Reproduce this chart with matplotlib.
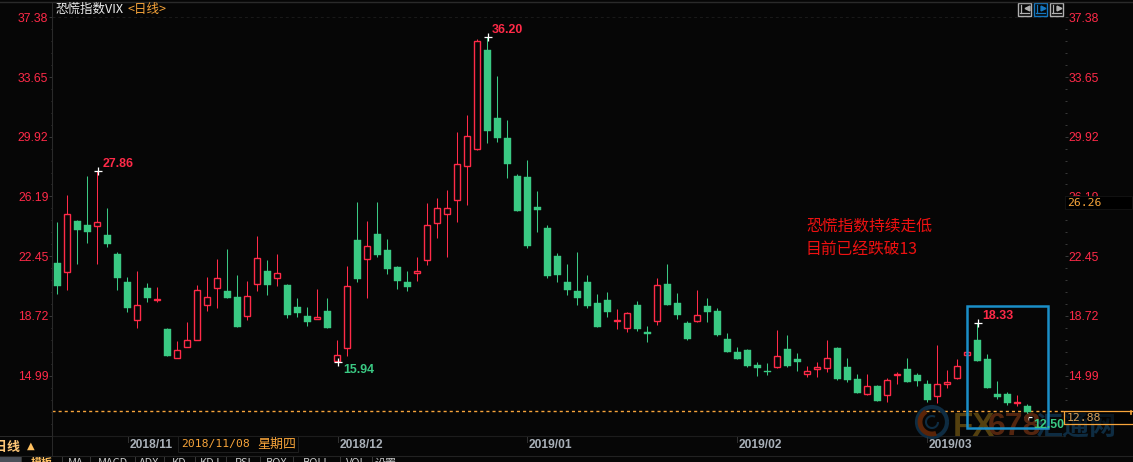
import matplotlib
matplotlib.use("Agg")
import numpy as np
from matplotlib import pyplot as plt
from matplotlib.patches import Rectangle, Arc

plt.rcParams['font.family'] = ['Noto Sans CJK SC', 'DejaVu Sans']

W, H = 1133, 462

# 日K数据, 从图上读出来的
opens = [22.03, 21.49, 24.66, 24.41, 24.36, 23.78, 22.60, 20.85, 18.45, 20.47,
         19.73, 17.91, 16.08, 16.76, 17.20, 19.39, 20.45, 20.28, 19.91, 18.70,
         20.70, 21.53, 21.11, 20.66, 19.28, 18.72, 18.55, 19.03, 15.93, 16.74,
         23.47, 22.30, 23.85, 22.84, 21.78, 20.85, 21.43, 22.24, 24.55, 25.08,
         25.99, 28.11, 29.18, 35.35, 31.09, 29.84, 27.47, 27.41, 25.53, 24.22,
         22.47, 20.85, 20.28, 20.85, 19.53, 19.72, 18.43, 17.99, 19.41, 17.72,
         18.43, 20.72, 19.53, 18.28, 18.43, 19.35, 19.03, 17.28, 16.47, 16.60,
         15.66, 15.28, 15.53, 16.66, 16.03, 15.11, 15.39, 15.49, 16.72, 15.53,
         14.78, 13.86, 14.35, 13.80, 15.01, 15.41, 15.03, 14.47, 13.70, 14.45,
         14.83, 16.26, 17.22, 16.03, 13.85, 13.85, 13.26, 13.10]
closes = [20.59, 25.08, 24.09, 23.97, 24.58, 23.24, 21.11, 19.24, 19.39, 19.85,
          19.76, 16.24, 16.58, 17.20, 20.33, 19.89, 21.08, 19.85, 18.03, 19.95,
          22.33, 20.66, 21.39, 18.78, 18.91, 18.35, 18.64, 17.97, 16.26, 20.58,
          21.03, 23.08, 22.53, 21.66, 20.91, 20.53, 21.51, 24.39, 25.45, 25.45,
          28.20, 29.95, 35.89, 30.28, 29.84, 28.22, 25.28, 23.09, 25.34, 21.22,
          21.28, 20.35, 19.85, 19.35, 18.03, 18.97, 18.45, 18.89, 17.91, 17.60,
          20.64, 19.41, 18.78, 17.28, 18.76, 18.97, 17.53, 16.47, 16.03, 15.60,
          15.47, 15.20, 16.20, 15.60, 15.85, 15.26, 15.51, 16.08, 14.78, 14.72,
          13.91, 14.33, 13.41, 14.70, 15.10, 14.60, 14.66, 13.47, 14.45, 14.58,
          15.58, 16.45, 15.91, 14.22, 13.66, 13.28, 13.35, 12.72]
highs = [24.61, 26.28, 24.72, 27.47, 27.78, 25.47, 22.72, 21.16, 21.53, 20.78,
         20.53, 17.97, 17.16, 18.35, 20.66, 21.16, 22.28, 22.91, 21.28, 20.91,
         23.72, 22.22, 22.60, 20.70, 19.85, 19.28, 20.41, 19.85, 17.22, 21.84,
         25.84, 24.66, 25.84, 23.53, 21.84, 21.53, 22.41, 25.78, 26.10, 26.60,
         30.22, 31.28, 36.03, 36.16, 33.72, 30.97, 27.60, 28.47, 26.53, 24.41,
         22.66, 21.97, 22.72, 21.28, 20.10, 20.22, 19.16, 18.97, 19.66, 18.10,
         21.10, 21.97, 20.16, 18.41, 20.35, 19.85, 19.22, 17.66, 16.78, 16.66,
         15.85, 15.78, 17.85, 17.53, 16.41, 15.60, 15.85, 17.22, 16.78, 16.10,
         15.10, 15.10, 14.41, 14.85, 15.22, 16.10, 15.16, 14.72, 16.91, 15.35,
         16.03, 17.78, 18.28, 16.35, 14.66, 13.97, 13.78, 13.22]
lows = [20.11, 20.34, 21.99, 23.30, 21.99, 23.05, 20.34, 18.99, 17.99, 19.61,
        19.61, 16.24, 16.08, 16.76, 17.20, 19.03, 19.24, 19.85, 18.03, 18.49,
        20.28, 20.03, 20.59, 18.59, 18.66, 18.10, 18.55, 17.97, 15.85, 16.22,
        20.85, 19.85, 22.41, 21.35, 20.41, 20.28, 20.91, 21.91, 23.59, 22.41,
        24.60, 25.66, 29.10, 29.53, 29.59, 27.35, 25.28, 22.99, 23.97, 21.10,
        20.85, 20.03, 19.41, 19.22, 18.03, 18.66, 17.91, 17.72, 17.78, 17.10,
        18.16, 19.41, 18.53, 17.22, 18.35, 18.35, 17.47, 16.47, 16.03, 15.53,
        14.97, 15.03, 15.49, 15.53, 15.28, 14.91, 14.91, 15.22, 14.72, 14.60,
        13.91, 13.78, 13.41, 13.35, 14.47, 14.60, 14.35, 13.35, 13.28, 14.22,
        14.78, 15.47, 15.91, 14.22, 13.53, 13.16, 13.10, 12.41]

y_ticks = [37.38, 33.65, 29.92, 26.19, 22.45, 18.72, 14.99]
y_minor = [36.63, 35.89, 35.14, 34.40, 32.90, 32.16, 31.41, 30.67,
           29.17, 28.43, 27.68, 26.94, 25.44, 24.70, 23.95, 23.20,
           21.70, 20.96, 20.21, 19.47, 17.97, 17.23, 16.48, 15.74,
           14.24, 13.50, 12.75, 12.00]
month_idx = [7.1, 28.1, 47, 68, 87]
month_labels = ['2018/11', '2018/12', '2019/01', '2019/02', '2019/03']
cur_line = 12.77

# 高低点标注
peak_idx = [4, 43, 92]
peak_txt = ['27.86', '36.20', '18.33']
trough_idx = [28, 97]
trough_txt = ['15.94', '12.50']

BG = '#060606'
RED = '#ff2a48'
GREEN = '#3ac983'
ORANGE = '#f7a43a'


def to_pt(px):
    return px * 0.72


def draw_candles(ax):
    x = np.arange(len(opens))
    o, c, h, l = map(np.array, (opens, closes, highs, lows))
    up = c >= o
    for mask, col in ((up, RED), (~up, GREEN)):
        ax.vlines(x[mask], l[mask], h[mask], color=col, lw=0.75, zorder=2)
    # 阳线空心, 阴线实心
    ax.bar(x[up], np.maximum(c[up] - o[up], 0.03), bottom=o[up], width=0.6,
           facecolor=BG, edgecolor=RED, linewidth=1.0, zorder=3)
    ax.bar(x[~up], np.maximum(o[~up] - c[~up], 0.03), bottom=c[~up], width=0.7,
           facecolor=GREEN, edgecolor=GREEN, linewidth=0.3, zorder=3)


fig = plt.figure(figsize=(W / 100, H / 100), dpi=100, facecolor=BG)
ax = fig.add_axes([52 / W, 1 - 436 / H, (1065 - 52) / W, 434 / H], facecolor=BG)
ax.set_xlim(-0.53, 100.77)
ax.set_ylim(38.47 - 436 / 16, 38.47 - 2 / 16)

draw_candles(ax)

# 坐标轴
for s in ax.spines.values():
    s.set_visible(False)
ax.spines['left'].set_visible(True)
ax.spines['left'].set_color('#2a2a2a')
ax.spines['bottom'].set_visible(True)
ax.spines['bottom'].set_color('#1c1c1c')
ax.set_xticks([])
ax.set_yticks(y_ticks)
ax.set_yticks(y_minor, minor=True)
ax.tick_params(axis='y', which='major', left=True, right=True, labelleft=True, labelright=True,
               length=to_pt(3), width=0.7, color='#3a3a3a', labelcolor=RED, pad=0.4)
ax.tick_params(axis='y', which='minor', left=True, right=True, length=to_pt(1.5), width=0.7, color='#3a3a3a')
for t in ax.get_yticklabels():
    t.set_family('Liberation Sans')
    t.set_fontsize(to_pt(12.2))
ax.axhline(y_ticks[0], color='#1a1a1a', lw=0.7, ls=(0, (3, 3)), zorder=1)
ax.plot([-0.53, 100.77], [cur_line, cur_line], color=ORANGE, lw=1.0, ls=(0, (2.2, 2.2)), zorder=1)

# 其余界面元素用像素坐标的一层来画
ui = fig.add_axes([0, 0, 1, 1], facecolor='none')
ui.set_xlim(0, W)
ui.set_ylim(H, 0)
ui.axis('off')

ui.plot([0, W], [1.5, 1.5], color='#2a2a2a', lw=1)
ui.plot([0, W], [456, 456], color='#222222', lw=0.8)

ui.text(55, 9, '恐慌指数VIX', color='#eeeeee', fontsize=to_pt(12.5), va='center')
ui.text(127, 9, '<日线>', color=ORANGE, fontsize=to_pt(12.5), va='center')

ui.text(806, 226.5, '恐慌指数持续走低', color='#ee1111', fontsize=to_pt(15.8), va='center')
ui.text(806, 249.5, '目前已经跌破13', color='#ee1111', fontsize=to_pt(15.8), va='center')

# 水印
ui.add_patch(Arc((932, 422), 30, 30, theta1=0, theta2=360, color='#0e2c42', lw=3))
ui.add_patch(Arc((932, 422), 24, 24, theta1=70, theta2=240, color='#5a2408', lw=3.5))
ui.add_patch(Arc((932, 422), 12, 12, theta1=0, theta2=300, color='#0e2c42', lw=1.5))
ui.text(953, 427, 'FX', color='#54400f', fontsize=to_pt(33), family='Liberation Sans', weight='bold', va='center')
ui.text(988, 427, '678', color='#54250f', fontsize=to_pt(32), family='Liberation Sans', weight='bold', va='center')
ui.text(1035, 427, '汇通网', color='#0e2c42', fontsize=to_pt(27), weight='bold', va='center')

# 蓝框
ui.add_patch(Rectangle((966.5, 306), 81.5, 122, fill=False, edgecolor='#1a8ec8', lw=1.8, zorder=5))

# 高低点, 放在蓝框上面
for i, txt in zip(peak_idx, peak_txt):
    ax.plot(i + 0.1, highs[i], marker='+', color='white', ms=6, mew=0.9, zorder=5)
    ui.annotate(txt, (i, highs[i]), xycoords=ax.transData, xytext=(3.5, 0.6), textcoords='offset points',
                color=RED, family='Liberation Sans', weight='bold', fontsize=to_pt(12.4), va='bottom', zorder=8)
for i, txt in zip(trough_idx, trough_txt):
    ax.plot(i + 0.1, lows[i], marker='+', color='white', ms=6, mew=0.9, zorder=5)
    ui.annotate(txt, (i, lows[i]), xycoords=ax.transData, xytext=(4, -1.5), textcoords='offset points',
                color=GREEN, family='Liberation Sans', weight='bold', fontsize=to_pt(12.4), va='top', zorder=8)

# 最新价 / 光标价
ui.add_patch(Rectangle((1065, 196), 67, 13, facecolor='black', edgecolor='#141414', lw=0.6, zorder=6))
ui.text(1067, 202.5, '26.26', color=ORANGE, family='DejaVu Sans Mono', fontsize=to_pt(11.5), va='center', zorder=7)
ui.plot([W, 1064, 1064, W], [411.3, 411.3, 424, 424], color=ORANGE, lw=0.9, zorder=6)
ui.add_patch(Rectangle((1065, 412), 68, 11.5, facecolor='black', alpha=0.55, lw=0, zorder=5))
ui.text(1067, 418, '12.88', color='#d6a05a', family='DejaVu Sans Mono', fontsize=to_pt(11.5), va='center', zorder=7)
ui.plot([1131, 1131], [411, 414], color=ORANGE, lw=1.2, zorder=7)

# 工具按钮
for bx, col in zip([1017.5, 1033.5, 1049.5], ['#b0b0b0', '#1577c0', '#b0b0b0']):
    ui.add_patch(Rectangle((bx, 2.5), 13, 13, fill=False, edgecolor=col, lw=1))
    ui.plot([bx + 3, bx + 3], [4.5, 13], color=col, lw=0.9)
    ui.plot([bx + 2, bx + 11], [12.5, 12.5], color=col, lw=0.9)
    ui.plot([bx + 9], [8], marker='<' if bx < 1020 else '>', ms=3.5, color=col, lw=0)

# 底部日期
for i, lab in zip(month_idx, month_labels):
    xp = 57.3 + i * 10
    ui.plot([xp, xp], [437, 441.5], color='#333333', lw=0.7)
    ui.text(xp + 1.5, 445, lab, color='#a9b0b8', family='Liberation Sans', weight='bold',
            fontsize=to_pt(12), va='center')
ui.add_patch(Rectangle((178, 436), 120, 16, facecolor='#050505', edgecolor='#1e1e1e', lw=0.7, zorder=4))
ui.text(181, 444, '2018/11/08', color=ORANGE, family='DejaVu Sans Mono', fontsize=to_pt(11.4), va='center', zorder=5)
ui.text(257, 444, '星期四', color=ORANGE, fontsize=to_pt(13), va='center', zorder=5)

ui.add_patch(Rectangle((-2, 436), 53.5, 20, facecolor=BG, edgecolor='#2a2a2a', lw=0.7))
ui.text(-5.5, 447, '日线', color='#ffc878', fontsize=to_pt(13), weight='bold', va='center', clip_on=True)
ui.text(31, 446, '▲', color='#ffc060', family='DejaVu Sans', fontsize=to_pt(10), ha='center', va='center')

# 最下面一排被截断的标签
tab_x = [0, 21, 62, 90, 135, 164, 195, 226, 260, 293, 340, 372]
tab_txt = ['', '模板', 'MA', 'MACD', 'ADX', 'KD', 'KDJ', 'RSI', 'BOX', 'BOLL', 'VOL', '设置']
ui.add_patch(Rectangle((0, 457), 21, 6, facecolor='#4a4f58', lw=0))
for k in range(1, len(tab_x)):
    ui.plot([tab_x[k], tab_x[k]], [457, 462], color='#3a3a3a', lw=0.7)
    nxt = tab_x[k + 1] if k + 1 < len(tab_x) else 400
    col = '#ffc060' if k == 1 else '#c8c8c8'
    ui.text((tab_x[k] + nxt) / 2, 458, tab_txt[k], color=col, fontsize=to_pt(11), ha='center', va='top',
            weight='bold' if k == 1 else 'normal')

fig.savefig('out.png', dpi=100, facecolor=BG)
